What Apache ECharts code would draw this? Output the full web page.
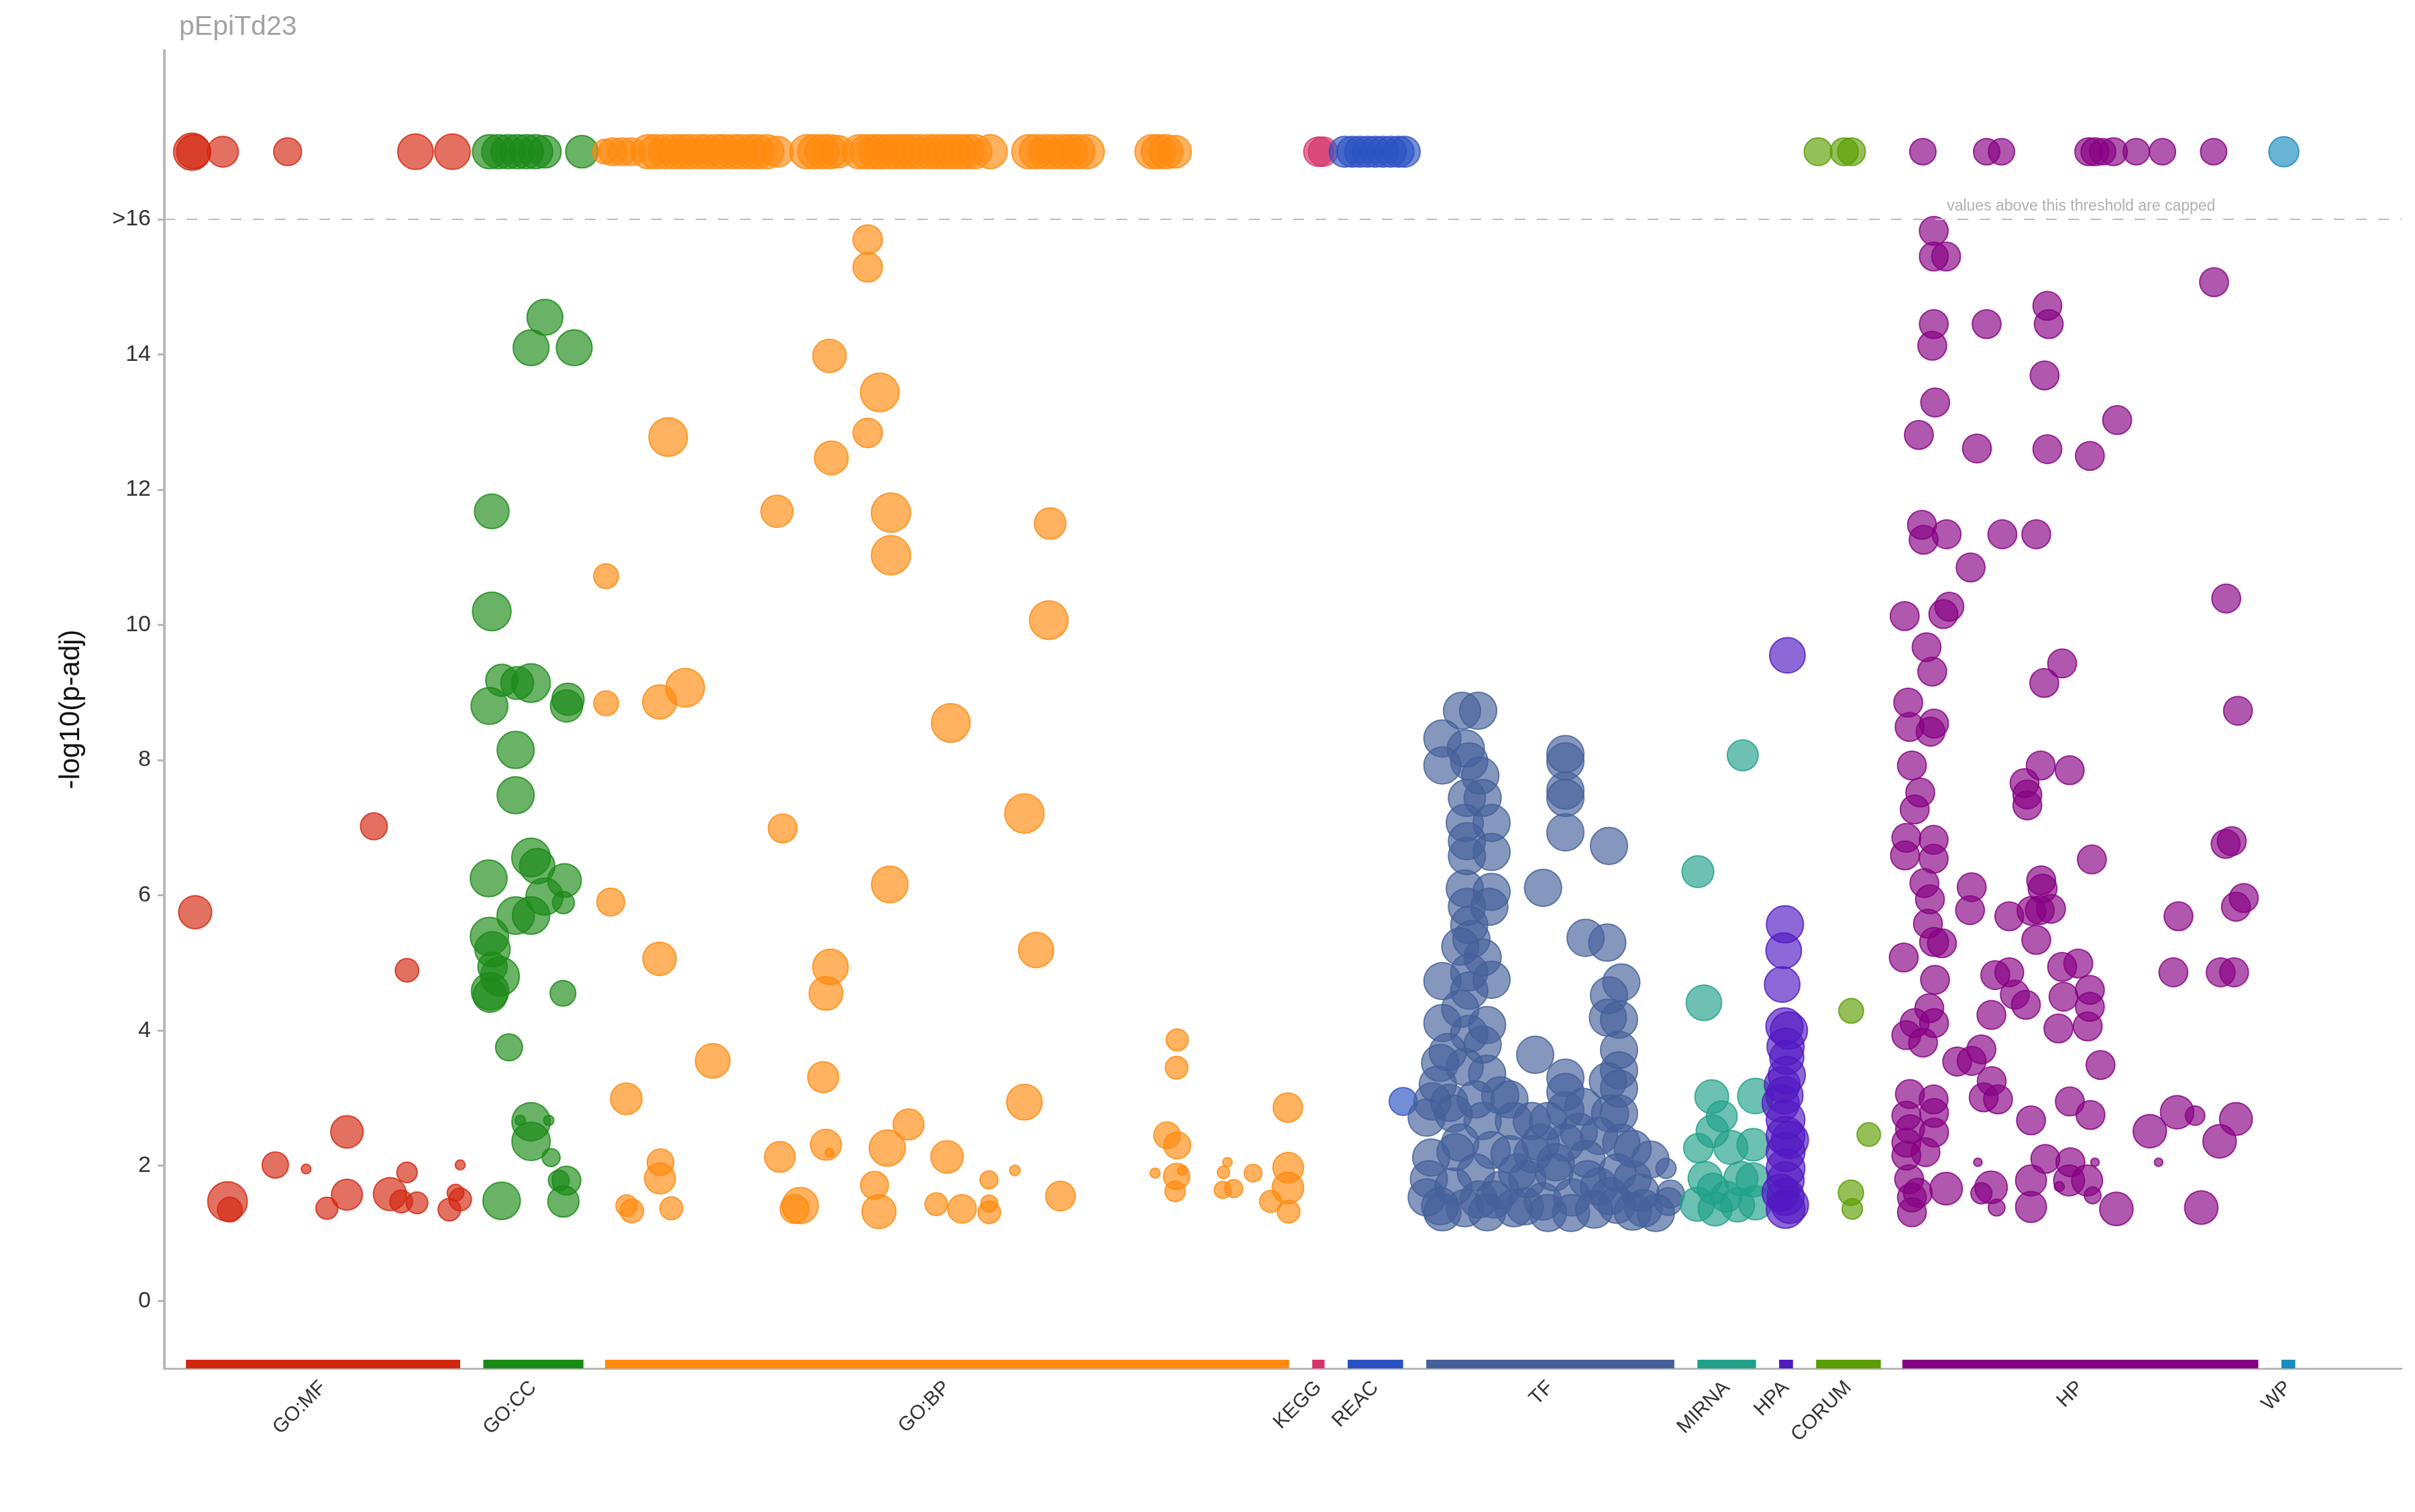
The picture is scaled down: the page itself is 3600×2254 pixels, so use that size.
<!DOCTYPE html>
<html>
<head>
<meta charset="utf-8">
<script src="https://cdn.jsdelivr.net/npm/echarts@6/dist/echarts.min.js"></script>
<style>
html,body{margin:0;padding:0;background:#fff;}
#chart{width:3600px;height:2254px;}
</style>
</head>
<body>
<div id="chart"></div>
<script>
// ---- Data (x = term position along the source axis, y = -log10(p-adj), s = relative term size) ----
const CAP = 17; // plotted level for values above the threshold (>16)
const THRESHOLD = 16;

const sources = ['GO:MF','GO:CC','GO:BP','KEGG','REAC','TF','MIRNA','HPA','CORUM','HP','WP'];
const sourceColors = ['#d2260f','#1a8a16','#ff8a0c','#d5336a','#2a52c2','#44609a','#20a08a','#5119c2','#5b9e02','#860083','#1a8bbe'];
const segStart = [121,314,393,852,875,926,1102,1155,1179,1235,1481];
const segEnd   = [299,379,837,860,911,1087,1140,1164,1221,1466,1490];
const yTicks = [0,2,4,6,8,10,12,14,16];

// capped terms: [x, size]
const mfCapped = [[125,12],[126,11],[145,10],[187,9],[270,11.5],[294,11.5]];
const ccCapped = [[318,11],[324,11],[330,11],[336,11],[342,11],[348,11],[354,10.5],[378,10.5]];
const bpCapped = [[393,8],[398,9],[404,9],[410,9],[421,11],[426,11],[432,11],[438,11],[443,11],[448,11],[454,11],[459,11],[465,11],[470,11],[476,11],[481,11],[487,11],[492,11],[498,11],[505,10],[524,11],[529,11],[534,11],[539,11],[544,10.5],[558,11],[563,11],[568,11],[572,11],[577,11],[582,11],[587,11],[592,11],[597,11],[603,11],[608,11],[613,11],[618,11],[623,11],[628,11],[633,11],[643,11],[668,11],[673,11],[679,11],[684,11],[690,11],[695,11],[700,11],[706,11],[748,11],[752,11],[757,11],[763,10.5]];
const keggCapped = [[856,9.5],[859,9.5]];
const reacCapped = [[873,10],[878,10],[883,10],[888,10],[893,10],[898,10],[903,10],[908,10],[912,10]];
const corumCapped = [[1180.3,9],[1197.3,9],[1202,9]];
const hpCapped = [[1248.3,8.5],[1289.7,8.5],[1299.3,8.5],[1356,9],[1360,9],[1365,8.5],[1372,9],[1386.8,8.5],[1403.8,8.5],[1437,8.5]];
const wpCapped = [[1482.6,9.7]];

// uncapped terms: [x, -log10(p-adj), size]
const mfTerms = [[127,5.75,10.7],[243,7.02,8.7],[264.5,4.89,7.6],[225.5,2.50,10.5],[179,2.01,8.5],[199,1.95,3.1],[264.5,1.90,6.6],[299,2.01,3.2],[148,1.47,12.8],[149.5,1.35,8],[212.5,1.37,7.1],[225.5,1.57,10],[253.4,1.58,10.7],[260.7,1.47,7.3],[271,1.45,7],[292,1.35,7.3],[296,1.6,5.4],[299,1.5,7.3]];
const ccTerms = [[354,14.55,11.6],[345,14.1,11.6],[373,14.1,11.6],[319.5,11.68,11.2],[319.5,10.2,12.5],[326,9.18,10.4],[336,9.14,10.6],[345,9.14,12.5],[318,8.8,11.9],[369,8.9,10.4],[368,8.8,10.4],[335,8.15,12],[335,7.48,12],[345,6.56,12.5],[349,6.43,11.4],[317.5,6.25,11.9],[366.7,6.22,10.9],[353.7,5.98,12],[366,5.89,7.1],[335,5.7,12.1],[345,5.7,12.1],[318,5.39,12.4],[320,5.2,11.4],[324.8,4.8,12.6],[320,4.94,9.5],[318.4,4.58,12.1],[318.4,4.52,11],[365.7,4.55,8.3],[330.7,3.75,8.7],[345,2.65,12.4],[345,2.36,12.4],[338,2.67,3.3],[356.5,2.67,3.3],[358,2.12,5.8],[368,1.78,9.3],[363,1.78,6.7],[325.9,1.48,12.1],[366,1.47,10.1]];
const bpTerms = [[563.5,15.7,9.5],[563.5,15.29,9.5],[538.7,13.98,10.8],[571.3,13.44,12.5],[563.5,12.84,9.5],[434,12.78,12.5],[539.9,12.47,10.9],[504.6,11.68,10.4],[578.6,11.66,12.7],[681.9,11.5,10.2],[578.6,11.03,12.7],[393.7,10.72,8],[681,10.07,12.5],[445,9.07,12.5],[428.4,8.86,11],[393.7,8.84,8],[617.4,8.55,12.5],[665.2,7.21,12.7],[508.3,6.99,9.3],[577.8,6.16,11.8],[396.7,5.9,9],[672.8,5.19,11.4],[428.4,5.06,10.8],[539.3,4.94,11.5],[536.4,4.55,10.9],[462.9,3.55,11.2],[534.6,3.31,10],[764.4,3.86,7.1],[764,3.45,7.3],[406.8,2.99,10.2],[665.2,2.94,11.5],[590,2.61,10],[836.2,2.86,9.5],[757.8,2.45,8.6],[764.4,2.3,8.7],[576.2,2.26,11.7],[536.4,2.31,10],[538.7,2.19,2.9],[615,2.13,10.5],[506.5,2.13,9.9],[429,2.05,8.6],[428.7,1.81,10],[836.4,1.97,9.9],[797,2.05,3],[794.4,1.9,4],[750,1.89,3.2],[767.8,1.93,3.2],[813.6,1.89,5.7],[659,1.93,3.4],[642.2,1.79,5.8],[567.9,1.71,9],[764,1.84,8.5],[836.2,1.67,10.2],[763,1.62,6.6],[801,1.66,5.8],[793.9,1.64,5.5],[688.6,1.55,9.6],[410.4,1.33,7.6],[407,1.41,6.9],[436,1.37,7.4],[519.7,1.41,11.7],[516,1.36,9.3],[570.8,1.32,11],[608,1.43,7.3],[624.7,1.36,9.2],[642.4,1.44,5.5],[642.4,1.31,7.3],[825,1.47,7.1],[836.7,1.32,7.3]];
const reacTerms = [[911,2.95,9]];
const tfTerms = [[949.2,8.73,12],[959.7,8.73,12],[936.5,8.32,12],[951.7,8.17,12],[936.5,7.92,12],[953.9,7.98,12],[961.1,7.77,12],[952.4,7.44,12],[962.6,7.44,12],[951,7.07,12],[968.4,7.07,12],[952.4,6.8,12],[968.4,6.64,12],[952.4,6.58,12],[951,6.1,12],[968.4,6.05,12],[952.4,5.83,12],[967,5.83,12],[953.9,5.56,12],[955.3,5.35,12],[948.1,5.24,12],[962.6,5.08,12],[936.5,4.73,12],[953.9,4.86,12],[968.4,4.75,12],[953.9,4.59,12],[948.1,4.32,12],[936.5,4.11,12],[965.5,4.08,12],[953.9,3.95,12],[962.6,3.79,12],[935,3.52,12],[951,3.46,12],[965.5,3.36,12],[933.5,3.2,12],[980,2.98,12],[926.3,2.71,12],[943.7,2.77,12],[962.6,2.66,12],[982.9,2.66,12],[929.2,2.12,12],[948.1,2.34,12],[968.4,2.23,12],[927.7,1.8,12],[926.3,1.53,12],[936.5,1.31,12],[951,1.37,12],[965.5,1.31,12],[943.7,1.69,12],[958.2,1.9,12],[974.2,1.64,12],[982.9,1.37,12],[991.6,1.8,12],[994.5,2.66,12],[1000.3,2.34,12],[1001.8,1.47,12],[1009,1.9,12],[1016.3,3.3,12],[1016.3,3.09,12],[1016.3,2.82,12],[1027.9,2.87,12],[1016.3,2.34,12],[1020.7,1.53,12],[1030.8,1.8,12],[1038.1,2.44,12],[1045.3,2.77,12],[1052.6,2.34,12],[1049.7,1.42,12],[1059.9,1.8,12],[1067.1,1.37,12],[1071.5,2.09,12],[1081.6,1.96,6.5],[1083.1,1.47,9],[1084.5,1.58,9],[1038.1,1.69,12],[1016.3,8.09,12],[1016.3,7.98,12],[1016.3,7.55,12],[1016.3,7.44,12],[1016.3,6.93,12],[1044.6,6.73,12],[1001.8,6.11,12],[1029.4,5.37,12],[1043.5,5.3,12],[1052.6,4.71,12],[1044.6,4.52,12],[1051.1,4.16,12],[1043.9,4.19,12],[1051.1,3.71,12],[1051.1,3.41,12],[1043.9,3.25,12],[1051.1,3.14,12],[1051.1,2.77,12],[996.7,3.64,12],[940,3.68,12],[958,2.98,12],[941,2.93,12],[974,3.04,12],[995,2.17,12],[980,2.17,12],[960,1.5,12],[930,2.95,12],[1005,2.66,12],[990,1.4,12],[1005,1.3,12],[1035,1.35,12],[1060,1.32,12],[1075,1.3,12],[1020,1.3,12],[1045,1.55,12],[1030,2.1,12],[1060,2.25,12],[1010,2.05,12],[985,1.9,12],[945,2.2,12],[935,1.4,12],[970,1.5,12],[1050,1.9,12],[1025,2.5,12],[1065,1.6,12]];
const mirnaTerms = [[1131.4,8.07,10],[1102.3,6.35,10.3],[1106.2,4.41,11.5],[1111.3,3.02,10.9],[1139.6,3.03,11.5],[1117.8,2.73,10],[1111.7,2.51,10.5],[1102.6,2.26,9.5],[1123.7,2.27,11],[1138.2,2.31,10.5],[1107,1.81,11],[1130.2,1.81,11],[1138.2,1.79,11],[1101.9,1.43,11],[1113.5,1.36,11],[1128,1.42,11],[1139.6,1.45,11],[1120.8,1.54,10],[1112,1.66,10]];
const hpaTerms = [[1160.4,9.55,11.5],[1158.8,5.57,12],[1158,5.18,11.5],[1157,4.68,11.5],[1158.5,4.06,12],[1161.4,4.0,12],[1159.2,3.76,12],[1160,3.34,12],[1158.5,3.04,12],[1159.2,2.68,12.5],[1159.2,2.44,12.5],[1159.2,2.2,12.5],[1159.2,1.96,12.5],[1159.2,1.78,12],[1159.2,1.54,12],[1159.2,1.36,12.5],[1156,2.92,12],[1162,2.38,12],[1156,1.6,12],[1162,1.42,12],[1160,3.6,11],[1157,3.2,11.5]];
const corumTerms = [[1201.8,4.29,8],[1213.2,2.46,7.6],[1201.6,1.6,8.2],[1202.5,1.36,6.6]];
const hpTerms = [[1255.4,15.83,9.3],[1255.4,15.45,9.3],[1263.4,15.45,9.3],[1437.3,15.07,9.3],[1329.1,14.72,9.3],[1330,14.45,9.3],[1255.4,14.45,9.3],[1289.7,14.45,9.3],[1254.4,14.13,9.3],[1327.3,13.69,9.3],[1256.3,13.29,9.3],[1374.4,13.03,9.3],[1245.7,12.81,9.3],[1283.4,12.61,9.3],[1329.1,12.6,9.3],[1356.7,12.5,9.3],[1247.7,11.48,9.3],[1248.8,11.26,9.3],[1263.7,11.34,9.3],[1299.9,11.34,9.3],[1321.9,11.34,9.3],[1279.3,10.85,9.3],[1445.2,10.39,9.3],[1236.5,10.13,9.3],[1261.6,10.16,9.3],[1265.5,10.27,9.3],[1250.7,9.67,9.3],[1338.7,9.43,9.3],[1254.4,9.31,9.3],[1327.1,9.14,9.3],[1452.8,8.73,9.3],[1238.8,8.85,9.3],[1239.7,8.49,9.3],[1255.6,8.54,9.3],[1253.3,8.42,9.3],[1241.2,7.92,9.3],[1324.8,7.92,9.3],[1343.6,7.85,9.3],[1246.6,7.52,9.3],[1314.3,7.66,9.3],[1316.1,7.49,9.3],[1316.1,7.33,9.3],[1243,7.27,9.3],[1237.6,6.85,9.3],[1255.3,6.82,9.3],[1236.7,6.59,9.3],[1255.3,6.54,9.3],[1444.8,6.76,9.3],[1448.8,6.8,9.3],[1358,6.53,9.3],[1249.3,6.18,9.3],[1252.9,5.94,9.3],[1280,6.12,9.3],[1278.9,5.78,9.3],[1325.1,6.22,9.3],[1326,6.1,9.3],[1304.4,5.69,9.3],[1324.2,5.78,9.3],[1318.8,5.77,9.3],[1331.5,5.8,9.3],[1414.2,5.69,9.3],[1456.6,5.96,9.3],[1451.5,5.83,9.3],[1251.6,5.58,9.3],[1255.6,5.31,9.3],[1260.7,5.29,9.3],[1321.9,5.34,9.3],[1235.9,5.08,9.3],[1256.2,4.75,9.3],[1295.3,4.82,9.3],[1304.4,4.86,9.3],[1308,4.53,9.3],[1315.2,4.38,9.3],[1338.7,4.94,9.3],[1349.2,4.99,9.3],[1356.7,4.6,9.3],[1356.7,4.35,9.3],[1339.6,4.5,9.3],[1410.9,4.86,9.3],[1441.6,4.86,9.3],[1450.3,4.86,9.3],[1252.5,4.33,9.3],[1243,4.11,9.3],[1237.6,3.93,9.3],[1248.4,3.82,9.3],[1255.6,4.11,9.3],[1292.8,4.23,9.3],[1336.3,4.03,9.3],[1355.3,4.06,9.3],[1286.3,3.72,9.3],[1270.6,3.54,9.3],[1280,3.55,9.3],[1363.6,3.49,9.3],[1293,3.25,9.3],[1287.8,3.01,9.3],[1297.1,2.98,9.3],[1239.9,3.06,9.3],[1255.3,2.98,9.3],[1255.6,2.78,9.3],[1237.6,2.74,9.3],[1255.6,2.49,9.3],[1343.7,2.95,9.3],[1357.1,2.75,9.3],[1318.5,2.67,9.3],[1395.6,2.51,10.8],[1413.3,2.79,10.8],[1425,2.74,6.3],[1451.5,2.69,10.6],[1440.9,2.36,10.8],[1237.6,2.15,9.3],[1237.6,2.34,9.3],[1327.8,2.1,9.3],[1344.1,2.05,9.3],[1284,2.05,2.7],[1360,2.05,2.7],[1401.3,2.05,2.7],[1239.4,1.8,9.3],[1263.4,1.66,10.5],[1292.6,1.68,10.5],[1286.3,1.59,6.8],[1318.5,1.78,10],[1318.5,1.39,10],[1343.2,1.78,10],[1354.9,1.78,10],[1358.5,1.56,5.4],[1296.2,1.38,5.4],[1336.9,1.69,3.2],[1373.9,1.36,10.8],[1429,1.38,10.8],[1241.2,1.53,9.3],[1241.2,1.31,9.3],[1240,2.54,9.3],[1250,2.2,9.3],[1245,1.6,9.3]];

const capped = [mfCapped, ccCapped, bpCapped, keggCapped, reacCapped, [], [], [], corumCapped, hpCapped, wpCapped];
const terms  = [mfTerms, ccTerms, bpTerms, [], reacTerms, tfTerms, mirnaTerms, hpaTerms, corumTerms, hpTerms, []];

// ---- Chart ----
const X_MIN = 107, X_MAX = 1559, Y_MIN = -1, Y_MAX = 18.5;
const FONT = '"Liberation Sans", Arial, Helvetica, sans-serif';
const SIZE_SCALE = 4.6;

function hexA(hex, a) {
  const n = parseInt(hex.slice(1), 16);
  return 'rgba(' + ((n >> 16) & 255) + ',' + ((n >> 8) & 255) + ',' + (n & 255) + ',' + a + ')';
}

const centers = segStart.map((s, i) => (s + segEnd[i]) / 2);

const series = sources.map((name, i) => {
  const data = capped[i].map(p => [p[0], CAP, p[1]]).concat(terms[i]);
  return {
    name: name,
    type: 'scatter',
    data: data,
    symbolSize: v => v[2] * SIZE_SCALE,
    itemStyle: { color: hexA(sourceColors[i], 0.82), borderColor: sourceColors[i], borderWidth: 2 },
    z: 3
  };
});

// threshold line and its note
series.push({
  name: 'threshold',
  type: 'scatter',
  data: [],
  silent: true,
  markLine: {
    silent: true, symbol: 'none', animation: false,
    lineStyle: { type: [16, 17], color: '#bdbdbd', width: 2 },
    label: { show: false },
    data: [{ yAxis: THRESHOLD }]
  },
  markPoint: {
    silent: true, symbol: 'circle', symbolSize: 0, animation: false,
    label: { show: true, position: 'top', distance: 8, formatter: 'values above this threshold are capped',
             fontSize: 23, color: '#b0b0b0', fontFamily: FONT },
    data: [{ coord: [1351, THRESHOLD] }]
  }
});

// coloured source segments along the x axis
series.push({
  name: 'segments',
  type: 'custom',
  silent: true,
  clip: false,
  z: 4,
  data: segStart.map((s, i) => ({ value: [s, segEnd[i]], itemStyle: { color: sourceColors[i] } })),
  renderItem: function (params, api) {
    const a = api.coord([api.value(0), Y_MIN]);
    const b = api.coord([api.value(1), Y_MIN]);
    return { type: 'rect', shape: { x: a[0], y: a[1] - 13, width: b[0] - a[0], height: 13 },
             style: { fill: api.visual('color') } };
  }
});

const chart = echarts.init(document.getElementById('chart'), null, { renderer: 'canvas' });
chart.setOption({
  animation: false,
  backgroundColor: '#ffffff',
  title: {
    text: 'pEpiTd23', left: 262, top: 15,
    textStyle: { fontSize: 41, fontWeight: 'normal', color: '#a3a3a3', fontFamily: FONT }
  },
  grid: { left: 245, right: 20, top: 75, bottom: 214, containLabel: false },
  xAxis: {
    type: 'value', min: X_MIN, max: X_MAX,
    axisLine: { show: true, onZero: false, lineStyle: { color: '#b8b8b8', width: 3 } },
    axisTick: { show: false },
    splitLine: { show: false },
    axisLabel: {
      show: true, customValues: centers, rotate: 45, margin: 24,
      fontSize: 30, color: '#333333', fontFamily: FONT,
      formatter: function (v) {
        let best = 0, bd = Infinity;
        centers.forEach((c, i) => { const d = Math.abs(c - v); if (d < bd) { bd = d; best = i; } });
        return sources[best];
      }
    }
  },
  yAxis: {
    type: 'value', min: Y_MIN, max: Y_MAX,
    name: '-log10(p-adj)', nameLocation: 'middle', nameGap: 118,
    nameTextStyle: { fontSize: 42, color: '#111111', fontFamily: FONT },
    axisLine: { show: true, onZero: false, lineStyle: { color: '#b8b8b8', width: 4 } },
    axisTick: { show: true, customValues: yTicks, length: 10, lineStyle: { color: '#b8b8b8', width: 3 } },
    splitLine: { show: false },
    axisLabel: {
      customValues: yTicks, margin: 20, fontSize: 34, color: '#333333', fontFamily: FONT,
      formatter: v => (v === THRESHOLD ? '>' + THRESHOLD : String(v))
    }
  },
  series: series
});
</script>
</body>
</html>
